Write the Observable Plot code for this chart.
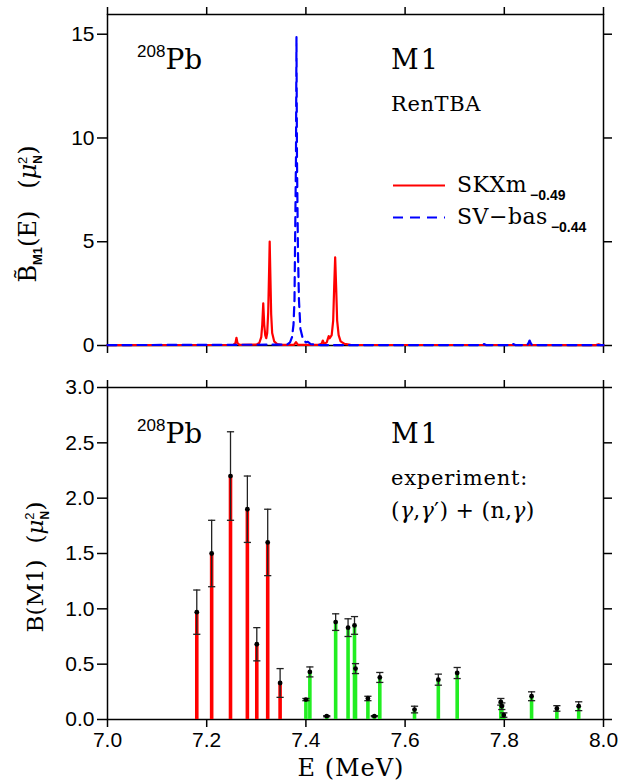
<!DOCTYPE html>
<html><head><meta charset="utf-8">
<script src="https://cdn.jsdelivr.net/npm/d3@7"></script>
<script src="https://cdn.jsdelivr.net/npm/@observablehq/plot@0.6"></script>
<style>
body{margin:0;background:#fff}
#chart svg{display:block}
</style></head><body><div id="chart"></div>
<script>
// ---- data ----
const xTicks = [7.0, 7.2, 7.4, 7.6, 7.8, 8.0];
const topYTicks = [0, 5, 10, 15];
const botYTicks = [0, 0.5, 1.0, 1.5, 2.0, 2.5, 3.0];

// RenTBA strength functions
const skxmE = [7.000, 7.254, 7.258, 7.260, 7.262, 7.266, 7.300, 7.306, 7.310, 7.312, 7.314, 7.316, 7.318, 7.320, 7.322, 7.324, 7.326, 7.327, 7.328, 7.330, 7.332, 7.336, 7.342, 7.350, 7.376, 7.380, 7.384, 7.426, 7.432, 7.434, 7.437, 7.442, 7.446, 7.448, 7.452, 7.455, 7.457, 7.459, 7.461, 7.463, 7.466, 7.470, 7.478, 7.490, 7.985, 7.990, 7.995, 8.000];
const skxmB = [0.02, 0.03, 0.12, 0.37, 0.12, 0.03, 0.04, 0.12, 0.40, 1.00, 2.03, 1.00, 0.50, 0.35, 0.60, 1.60, 3.80, 5.01, 3.80, 1.50, 0.60, 0.20, 0.07, 0.03, 0.03, 0.16, 0.03, 0.03, 0.10, 0.24, 0.08, 0.15, 0.45, 0.35, 0.50, 1.20, 2.80, 4.25, 2.80, 1.20, 0.50, 0.20, 0.08, 0.03, 0.02, 0.06, 0.02, 0.02];
const svbasE = [7.000, 7.362, 7.368, 7.372, 7.375, 7.377, 7.378, 7.380, 7.381, 7.382, 7.384, 7.386, 7.389, 7.394, 7.400, 7.404, 7.410, 7.430, 7.755, 7.759, 7.763, 7.814, 7.818, 7.822, 7.846, 7.849, 7.851, 7.853, 7.856, 8.000];
const svbasB = [0.02, 0.04, 0.15, 0.40, 1.00, 2.20, 4.50, 9.00, 14.86, 9.00, 4.50, 2.20, 0.80, 0.30, 0.15, 0.18, 0.06, 0.02, 0.02, 0.07, 0.02, 0.02, 0.07, 0.02, 0.02, 0.12, 0.24, 0.12, 0.02, 0.02];

// experiment: (gamma,gamma') red, (n,gamma) green
const redE   = [7.180, 7.210, 7.248, 7.282, 7.301, 7.323, 7.348];
const redB   = [0.97, 1.50, 2.20, 1.90, 0.68, 1.60, 0.33];
const redErr = [0.20, 0.30, 0.40, 0.30, 0.15, 0.30, 0.13];
const greenE   = [7.400, 7.408, 7.442, 7.460, 7.485, 7.498, 7.500, 7.525, 7.538, 7.549, 7.619, 7.667, 7.705, 7.793, 7.795, 7.799, 7.855, 7.906, 7.950];
const greenB   = [0.18, 0.43, 0.03, 0.88, 0.83, 0.85, 0.46, 0.19, 0.03, 0.38, 0.09, 0.36, 0.42, 0.16, 0.12, 0.04, 0.21, 0.10, 0.12];
const greenErr = [0.01, 0.045, 0.005, 0.075, 0.08, 0.08, 0.045, 0.02, 0.005, 0.045, 0.03, 0.05, 0.05, 0.03, 0.03, 0.02, 0.04, 0.025, 0.04];

// ---- tables ----
const skxm = skxmE.map((E, i) => ({E, B: skxmB[i]}));
const svbas = svbasE.map((E, i) => ({E, B: svbasB[i]}));
const red = redE.map((E, i) => ({E, B: redB[i], err: redErr[i]}));
const green = greenE.map((E, i) => ({E, B: greenB[i], err: greenErr[i]}));
const expt = red.concat(green);

const SERIF = "DejaVu Serif";
const SANS = "Liberation Sans";
const capSymbol = {draw(ctx, size) { const r = Math.sqrt(size / Math.PI); ctx.moveTo(-r, 0); ctx.lineTo(r, 0); }};

const common = {
  width: 629, marginLeft: 107, marginRight: 26,
  x: {domain: [7.0, 8.0]},
  style: {fontFamily: SANS, fontSize: "21px", color: "black", background: "white", overflow: "visible"}
};
const blank = () => "";

function axes(yTicks, yFmt, showX) {
  return [
    Plot.frame({stroke: "black", strokeWidth: 1.5}),
    Plot.axisX({anchor: "bottom", ticks: xTicks, tickSize: 8, tickPadding: 5, strokeWidth: 1.5,
      tickFormat: showX ? (d => d.toFixed(1)) : blank, label: null, fontSize: 21}),
    Plot.axisX({anchor: "top", ticks: xTicks, tickSize: 8, strokeWidth: 1.5, tickFormat: blank, label: null}),
    Plot.axisY({anchor: "left", ticks: yTicks, tickSize: 10, tickPadding: 3, strokeWidth: 1.5,
      tickFormat: yFmt, label: null, fontSize: 21}),
    Plot.axisY({anchor: "right", ticks: yTicks, tickSize: 8, strokeWidth: 1.5, tickFormat: blank, label: null})
  ];
}

const topPlot = Plot.plot({
  ...common, height: 370, marginTop: 14, marginBottom: 25,
  y: {domain: [0, 15.95]},
  marks: [
    ...axes(topYTicks, d => String(d), false),
    Plot.line(skxm, {x: "E", y: "B", stroke: "#ff0000", strokeWidth: 2.2}),
    Plot.line(svbas, {x: "E", y: "B", stroke: "#0000ff", strokeWidth: 2.2, strokeDasharray: "9,6"})
  ]
});

const botPlot = Plot.plot({
  ...common, height: 411, marginTop: 17, marginBottom: 62,
  y: {domain: [0, 3.0]},
  marks: [
    ...axes(botYTicks, d => d.toFixed(1), true),
    Plot.ruleX(red, {x: "E", y1: 0, y2: "B", stroke: "#ff0000", strokeWidth: 3.6}),
    Plot.ruleX(green, {x: "E", y1: 0, y2: "B", stroke: "#22ee22", strokeWidth: 3.6}),
    Plot.ruleX(expt, {x: "E", y1: d => d.B - d.err, y2: d => d.B + d.err, stroke: "#222", strokeWidth: 1.3}),
    Plot.dot(expt, {x: "E", y: d => d.B - d.err, symbol: capSymbol, r: 3.6, stroke: "#222", strokeWidth: 1.3}),
    Plot.dot(expt, {x: "E", y: d => d.B + d.err, symbol: capSymbol, r: 3.6, stroke: "#222", strokeWidth: 1.3}),
    Plot.dot(expt, {x: "E", y: "B", r: 2.4, fill: "black"})
  ]
});

const chart = document.getElementById("chart");
chart.appendChild(topPlot);
chart.appendChild(botPlot);

// ---- annotations ----
function txt(svg, x, y, size, family) {
  return d3.select(svg).append("text").attr("x", x).attr("y", y)
    .attr("text-anchor", "start").attr("font-family", family || SERIF)
    .attr("font-size", size).attr("fill", "black");
}
function nucleus(svg, baseY) {
  const t = txt(svg, 137, baseY, 28);
  t.append("tspan").attr("font-family", SANS).attr("font-size", 17).attr("dy", -12).text("208");
  t.append("tspan").attr("font-family", SERIF).attr("font-size", 28).attr("dy", 12).text("Pb");
}
function label(svg, x, y, size, s, spacing) {
  const t = txt(svg, x, y, size).text(s);
  if (spacing) t.attr("letter-spacing", spacing);
  return t;
}

// top panel
const ts = topPlot;
const tsel = d3.select(ts);
nucleus(ts, 69);
label(ts, 391, 69, 27, "M1", "2px");
label(ts, 391, 111, 21, "RenTBA", "0.6px");
tsel.append("line").attr("x1", 393).attr("x2", 445).attr("y1", 185.5).attr("y2", 185.5)
  .attr("stroke", "#ff0000").attr("stroke-width", 2);
tsel.append("line").attr("x1", 393).attr("x2", 445).attr("y1", 217.5).attr("y2", 217.5)
  .attr("stroke", "#0000ff").attr("stroke-width", 2).attr("stroke-dasharray", "10,7");
{
  const t = label(ts, 457, 192, 22, null, "0.5px");
  t.append("tspan").text("SKXm");
  t.append("tspan").attr("font-family", SANS).attr("font-weight", "bold").attr("font-size", 14).attr("dy", 8).attr("dx", 3).attr("letter-spacing", "0px").text("\u22120.49");
  const u = label(ts, 457, 224, 22, null, "0.5px");
  u.append("tspan").text("SV\u2212bas");
  u.append("tspan").attr("font-family", SANS).attr("font-weight", "bold").attr("font-size", 14).attr("dy", 8).attr("dx", 3).attr("letter-spacing", "0px").text("\u22120.44");
}
{
  const t = tsel.append("text").attr("transform", "translate(36,214) rotate(-90)")
    .attr("text-anchor", "middle").attr("font-family", SERIF).attr("font-size", 24).attr("fill", "black");
  t.append("tspan").text("B\u0303");
  t.append("tspan").attr("font-family", SANS).attr("font-weight", "bold").attr("font-size", 13).attr("dy", 6).text("M1");
  t.append("tspan").attr("dy", -6).text("(E)");
  t.append("tspan").attr("dx", 22).text("(");
  t.append("tspan").attr("font-style", "italic").text("\u03bc");
  t.append("tspan").attr("font-family", SANS).attr("font-weight", "bold").attr("font-size", 12).attr("dy", 6).text("N");
  t.append("tspan").attr("font-family", SANS).attr("font-size", 13).attr("dx", -9).attr("dy", -15).text("2");
  t.append("tspan").attr("dx", 2).attr("dy", 9).text(")");
}

// bottom panel
const bs = botPlot;
const bsel = d3.select(bs);
nucleus(bs, 73);
label(bs, 391, 73, 27, "M1", "2px");
label(bs, 391, 115, 21, "experiment:", "0.8px");
{
  const t = label(bs, 391, 148, 22, null, "0.3px");
  t.append("tspan").text("(");
  t.append("tspan").attr("font-style", "italic").text("\u03b3");
  t.append("tspan").text(",");
  t.append("tspan").attr("font-style", "italic").text("\u03b3");
  t.append("tspan").text("\u2032) + (n,");
  t.append("tspan").attr("font-style", "italic").text("\u03b3");
  t.append("tspan").text(")");
}
{
  const t = bsel.append("text").attr("transform", "translate(43,197) rotate(-90)")
    .attr("text-anchor", "middle").attr("font-family", SERIF).attr("font-size", 23).attr("fill", "black");
  t.append("tspan").text("B(M1)");
  t.append("tspan").attr("dx", 16).text("(");
  t.append("tspan").attr("font-style", "italic").text("\u03bc");
  t.append("tspan").attr("font-family", SANS).attr("font-weight", "bold").attr("font-size", 12).attr("dy", 6).text("N");
  t.append("tspan").attr("font-family", SANS).attr("font-size", 13).attr("dx", -9).attr("dy", -15).text("2");
  t.append("tspan").attr("dx", 2).attr("dy", 9).text(")");
}
bsel.append("text").attr("x", 351).attr("y", 406).attr("text-anchor", "middle")
  .attr("font-family", SERIF).attr("font-size", 24).attr("fill", "black").attr("letter-spacing", "1px").text("E (MeV)");
</script></body></html>
